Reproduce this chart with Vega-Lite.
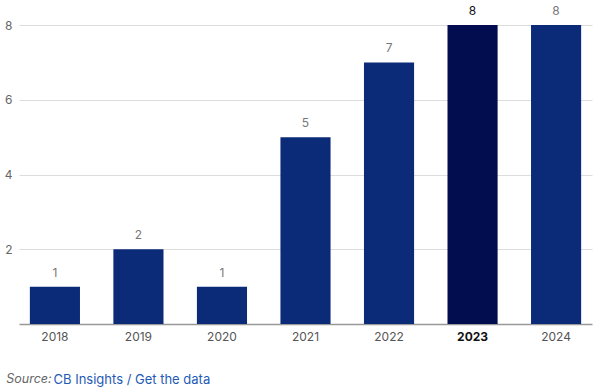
{
  "$schema": "https://vega.github.io/schema/vega-lite/v6.json",
  "width": 573,
  "height": 299,
  "autosize": "none",
  "padding": {"left": 19, "top": 25, "right": 10, "bottom": 66},
  "background": "white",
  "config": {"view": {"stroke": null}, "font": "Inter"},
  "data": {"values": [
    {"year": "2018", "deals": 1},
    {"year": "2019", "deals": 2},
    {"year": "2020", "deals": 1},
    {"year": "2021", "deals": 5},
    {"year": "2022", "deals": 7},
    {"year": "2023", "deals": 8},
    {"year": "2024", "deals": 8}
  ]},
  "title": {
    "text": "Source:",
    "orient": "bottom",
    "anchor": "start",
    "frame": "bounds",
    "fontSize": 12.5,
    "fontStyle": "italic",
    "fontWeight": "normal",
    "color": "#666666",
    "baseline": "alphabetic",
    "offset": -3,
    "dx": 2
  },
  "encoding": {
    "x": {
      "field": "year", "type": "nominal",
      "scale": {"paddingInner": 0.4, "paddingOuter": 0.13},
      "axis": {
        "title": "CB Insights / Get the data",
        "titleColor": "#1f5bb5",
        "titleFont": "Inter",
        "titleFontSize": 13,
        "titleFontWeight": "normal",
        "titleAnchor": "start",
        "titleAlign": "left",
        "titleBaseline": "alphabetic",
        "titleX": 34,
        "titleY": 59,
        "labelAngle": 0,
        "labelFontSize": 12,
        "labelColor": {"condition": {"test": "datum.value === '2023'", "value": "#111111"}, "value": "#555555"},
        "labelFontWeight": {"condition": {"test": "datum.value === '2023'", "value": "bold"}, "value": "normal"},
        "labelPadding": 7,
        "ticks": false,
        "domainColor": "#999999",
        "domainWidth": 1.5
      }
    },
    "y": {
      "field": "deals", "type": "quantitative",
      "scale": {"domain": [0, 8], "nice": false},
      "axis": {
        "title": null,
        "values": [2, 4, 6, 8],
        "domain": false,
        "ticks": false,
        "labelFontSize": 12,
        "labelColor": "#666666",
        "labelPadding": 7,
        "gridColor": "#dddddd",
        "gridWidth": 1
      }
    }
  },
  "layer": [
    {
      "mark": {"type": "bar"},
      "encoding": {
        "color": {
          "condition": {"test": "datum.year === '2023'", "value": "#020d4f"},
          "value": "#0b2a78"
        }
      }
    },
    {
      "mark": {"type": "text", "baseline": "bottom", "dy": -7, "fontSize": 12},
      "encoding": {
        "text": {"field": "deals", "type": "quantitative"},
        "color": {
          "condition": {"test": "datum.year === '2023'", "value": "#111111"},
          "value": "#777777"
        },
        "fontWeight": {
          "condition": {"test": "datum.year === '2023'", "value": "bold"},
          "value": "normal"
        }
      }
    }
  ]
}
